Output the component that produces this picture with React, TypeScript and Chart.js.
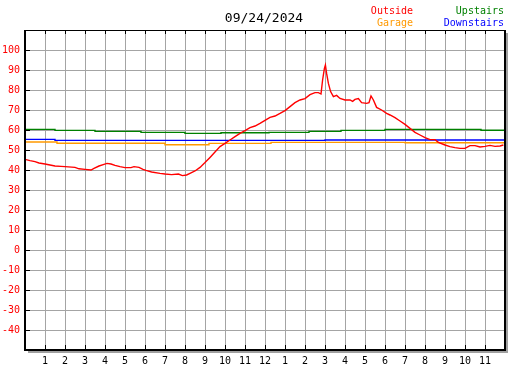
import React, { useEffect, useRef } from "react";
import { Chart, registerables } from "chart.js";

Chart.register(...registerables);

const chartTitle = "09/24/2024";
const seriesNames = ["Outside", "Garage", "Upstairs", "Downstairs"];
const hourLabels = ["1", "2", "3", "4", "5", "6", "7", "8", "9", "10", "11", "12", "1", "2", "3", "4", "5", "6", "7", "8", "9", "10", "11"];

const outsideHours = [0, 0.25, 0.5, 0.7, 1, 1.25, 1.5, 1.8, 2, 2.5, 2.7, 3, 3.3, 3.45, 3.7, 3.95, 4.1, 4.3, 4.5, 4.75, 5, 5.3, 5.45, 5.7, 5.9, 6.05, 6.33, 6.75, 7, 7.33, 7.67, 7.87, 8.08, 8.25, 8.5, 8.75, 9, 9.25, 9.5, 9.75, 10, 10.25, 10.5, 10.75, 11, 11.25, 11.5, 11.75, 12, 12.25, 12.5, 12.75, 13, 13.25, 13.5, 13.75, 14, 14.25, 14.5, 14.67, 14.8, 14.88, 14.97, 15.02, 15.08, 15.17, 15.28, 15.42, 15.58, 15.75, 16, 16.25, 16.38, 16.5, 16.67, 16.83, 17.08, 17.2, 17.3, 17.42, 17.58, 17.83, 18.08, 18.25, 18.5, 18.75, 19, 19.25, 19.5, 19.75, 20, 20.25, 20.5, 20.67, 21, 21.25, 21.5, 21.75, 22, 22.25, 22.5, 22.75, 23, 23.25, 23.5, 23.75, 23.92];
const outsideTemps = [45.3, 44.7, 44.2, 43.5, 43, 42.5, 42, 41.8, 41.7, 41.3, 40.6, 40.3, 40, 40.8, 42, 42.8, 43.3, 43, 42.3, 41.7, 41.2, 41.2, 41.7, 41.3, 40.3, 39.8, 39, 38.3, 38, 37.7, 38, 37.2, 37.5, 38.3, 39.5, 41.3, 43.7, 46.3, 49, 51.7, 53.3, 55, 56.7, 58.3, 59.7, 61.2, 62, 63.3, 64.8, 66.3, 67, 68.3, 69.7, 71.7, 73.7, 75, 75.7, 77.7, 78.7, 78.7, 78, 85, 90.8, 92.5, 88.3, 83.3, 79.2, 76.7, 77.3, 75.8, 75, 75, 74.3, 75.3, 75.7, 73.7, 73.3, 73.7, 77, 75, 71.3, 70, 68.3, 67.5, 66.2, 64.5, 62.8, 60.8, 58.8, 57.5, 56.2, 55.2, 55.2, 53.8, 52.5, 51.7, 51.2, 50.8, 50.8, 52.2, 52.2, 51.5, 51.8, 52.3, 51.8, 52, 52.5];

const garageHours = [0, 1.6, 7.0, 9.2, 12.3, 19.0, 24];
const garageTemps = [54.0, 53.4, 52.6, 53.3, 53.8, 53.6, 53.6];

const upstairsHours = [0, 1.5, 3.5, 5.8, 8.0, 9.8, 12.2, 14.2, 15.8, 18.0, 22.8, 24];
const upstairsTemps = [60.3, 59.8, 59.3, 58.8, 58.3, 58.6, 58.8, 59.3, 59.8, 60.3, 59.9, 59.9];

const downstairsHours = [0, 1.5, 15.0, 24];
const downstairsTemps = [55.3, 54.8, 55.0, 55.0];

const seriesColors = ["#ff0000", "#ff9900", "#008000", "#0000ff"];
const yTickLabels = ["-40", "-30", "-20", "-10", "0", "10", "20", "30", "40", "50", "60", "70", "80", "90", "100"];

const toPoints = (xs: number[], ys: number[]) => xs.map((x, i) => ({ x, y: ys[i] }));

const MONO = '"DejaVu Sans Mono", "Liberation Mono", monospace';

const decorPlugin = {
  id: "decor",
  afterDraw(chart: any) {
    const { ctx, chartArea, scales } = chart;
    const { left, right, top, bottom } = chartArea;
    ctx.save();
    // shadow
    ctx.fillStyle = "#a0a0a0";
    ctx.fillRect(right + 1, top + 3, 2, bottom - top);
    ctx.fillRect(left + 3, bottom + 1, right - left, 2);
    // frame
    ctx.fillStyle = "#000000";
    ctx.fillRect(left, top, right - left + 1, 1);
    ctx.fillRect(left - 1, top, 2, bottom - top + 1);
    ctx.fillRect(left - 1, bottom - 1, right - left + 2, 2);
    ctx.fillRect(right - 1, top, 2, bottom - top + 1);
    // inward ticks
    for (let h = 1; h < 24; h++) {
      const px = Math.round(scales.x.getPixelForValue(h));
      ctx.fillRect(px, bottom - 5, 1, 5);
      ctx.fillRect(px, top, 1, 4);
    }
    for (let v = -40; v <= 100; v += 10) {
      const py = Math.round(scales.y.getPixelForValue(v));
      ctx.fillRect(left, py, 5, 1);
    }
    // title
    ctx.textBaseline = "middle";
    ctx.textAlign = "center";
    ctx.font = `13px ${MONO}`;
    ctx.fillText(chartTitle, 264, 19);
    // legend
    ctx.font = `10px ${MONO}`;
    ctx.textAlign = "right";
    ctx.fillStyle = seriesColors[0];
    ctx.fillText(seriesNames[0], 413, 11);
    ctx.fillStyle = seriesColors[1];
    ctx.fillText(seriesNames[1], 413, 23);
    ctx.fillStyle = seriesColors[2];
    ctx.fillText(seriesNames[2], 504, 11);
    ctx.fillStyle = seriesColors[3];
    ctx.fillText(seriesNames[3], 504, 23);
    ctx.restore();
  },
};

export default function App() {
  const canvasRef = useRef<HTMLCanvasElement | null>(null);

  useEffect(() => {
    document.body.style.margin = "0";
    const canvas = canvasRef.current;
    if (!canvas) return;
    const lineDs = (label: string, data: any[], color: string, stepped: any) => ({
      label,
      data,
      borderColor: color,
      backgroundColor: color,
      borderWidth: 1.4,
      pointRadius: 0,
      tension: 0,
      stepped,
      fill: false,
    });
    const chart = new Chart(canvas, {
      type: "line",
      data: {
        datasets: [
          lineDs(seriesNames[0], toPoints(outsideHours, outsideTemps), seriesColors[0], false),
          lineDs(seriesNames[1], toPoints(garageHours, garageTemps), seriesColors[1], "before"),
          lineDs(seriesNames[2], toPoints(upstairsHours, upstairsTemps), seriesColors[2], "before"),
          lineDs(seriesNames[3], toPoints(downstairsHours, downstairsTemps), seriesColors[3], "before"),
        ],
      },
      options: {
        animation: false,
        responsive: false,
        maintainAspectRatio: false,
        devicePixelRatio: 1,
        layout: { padding: { left: 0, right: 22, top: 30, bottom: 0 } },
        plugins: {
          legend: { display: false },
          title: { display: false },
          tooltip: { enabled: false },
        },
        scales: {
          x: {
            type: "linear",
            min: 0,
            max: 24,
            afterFit: (s: any) => {
              s.height = 20;
            },
            border: { display: false },
            grid: { color: "#a4a4a4", lineWidth: 1, drawTicks: false },
            ticks: {
              stepSize: 1,
              autoSkip: false,
              maxRotation: 0,
              padding: 5,
              color: "#000000",
              font: { family: MONO, size: 10 },
              callback: (v: any) => (v >= 1 && v <= 23 ? hourLabels[v - 1] : ""),
            },
          },
          y: {
            type: "linear",
            min: -50,
            max: 110,
            afterFit: (s: any) => {
              s.width = 25;
            },
            border: { display: false },
            grid: { color: "#a4a4a4", lineWidth: 1, drawTicks: false },
            ticks: {
              stepSize: 10,
              autoSkip: false,
              padding: 5,
              color: "#ff0000",
              font: { family: MONO, size: 10 },
              callback: (v: any) => (v >= -40 && v <= 100 ? yTickLabels[(v + 40) / 10] : ""),
            },
          },
        },
      },
      plugins: [decorPlugin],
    } as any);
    return () => chart.destroy();
  }, []);

  return (
    <div style={{ width: 527, height: 370, overflow: "hidden", background: "#ffffff" }}>
      <canvas ref={canvasRef} width={527} height={370} style={{ display: "block", width: 527, height: 370 }} />
    </div>
  );
}
